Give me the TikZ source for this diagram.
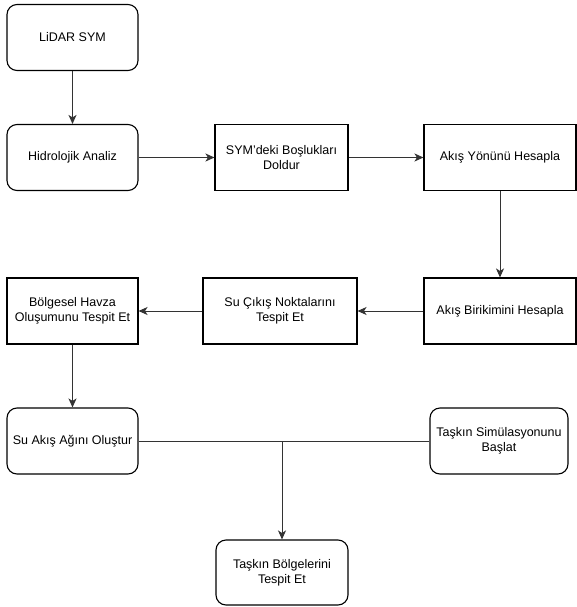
\documentclass[tikz,border=0pt]{standalone}
\usepackage{fontspec}
\setmainfont{Liberation Sans}
\usetikzlibrary{arrows.meta}
\begin{document}
\begin{tikzpicture}[x=1pt,y=-1pt,
  box/.style={draw=black,line width=1.1pt,inner sep=0pt,align=center,
    font=\fontsize{12.5}{15}\selectfont,minimum height=66pt},
  rbox/.style={box,rounded corners=10pt},
  conn/.style={draw=black!80,line width=1pt,-{Stealth[length=9pt,width=8pt,inset=2.5pt]}},
  plainline/.style={draw=black!80,line width=1pt}]
\useasboundingbox (0,0) rectangle (577,607);
\node[rbox,minimum width=131pt] (lidar) at (72.5,37.5) {LiDAR SYM};
\node[rbox,minimum width=131pt] (hidro) at (72.5,157.5) {Hidrolojik Analiz};
\node[box,minimum width=133pt] (sym) at (281.5,157.5) {SYM'deki Boşlukları\\Doldur};
\node[box,minimum width=152pt] (yon) at (500,157.5) {Akış Yönünü Hesapla};
\node[box,minimum width=152pt] (birik) at (500,311) {Akış Birikimini Hesapla};
\node[box,minimum width=154pt] (cikis) at (280,311) {Su Çıkış Noktalarını\\Tespit Et};
\node[box,minimum width=131pt] (havza) at (72.5,311) {Bölgesel Havza\\Oluşumunu Tespit Et};
\node[rbox,minimum width=131pt] (agi) at (72.5,441) {Su Akış Ağını Oluştur};
\node[rbox,minimum width=138pt] (sim) at (499,441) {Taşkın Simülasyonunu\\Başlat};
\node[rbox,minimum width=132pt,minimum height=65pt] (bolge) at (282,572.5) {Taşkın Bölgelerini\\Tespit Et};
\draw[conn] (lidar) -- (hidro);
\draw[conn] (hidro) -- (sym);
\draw[conn] (sym) -- (yon);
\draw[conn] (yon) -- (birik);
\draw[conn] (birik) -- (cikis);
\draw[conn] (cikis) -- (havza);
\draw[conn] (havza) -- (agi);
\draw[plainline] (agi) -- (sim);
\coordinate (j) at (bolge.north |- agi.east);
\draw[conn] (j) -- (bolge);
\end{tikzpicture}
\end{document}
